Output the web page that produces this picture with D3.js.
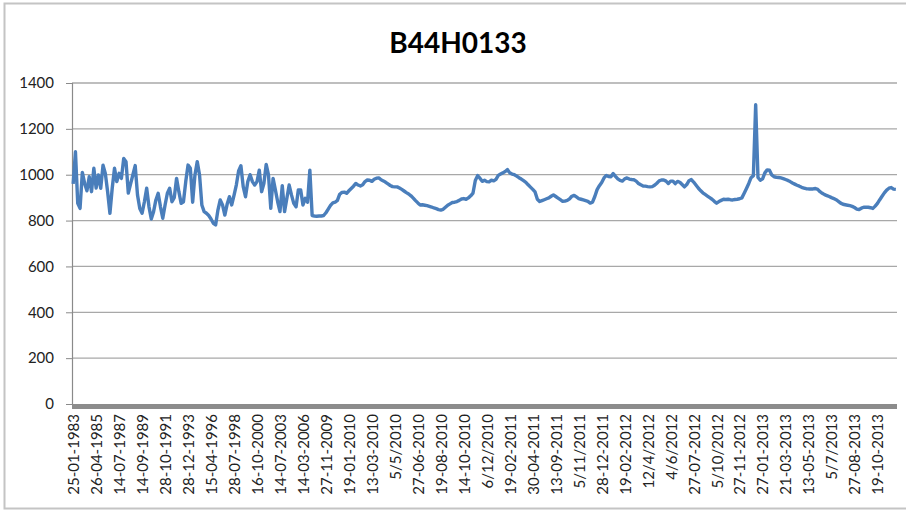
<!DOCTYPE html>
<html>
<head>
<meta charset="utf-8">
<script src="https://cdn.jsdelivr.net/npm/d3@7"></script>
<style>
  html, body { margin: 0; padding: 0; background: #fff; }
  svg { display: block; font-family: Lato, "Open Sans", sans-serif; }
</style>
</head>
<body>
<svg id="chart" width="906" height="512"></svg>
<script>
// Station title
const title = "B44H0133";

// Category labels shown on the axis (one every tenth reading)
const tickLabels = [
  "25-01-1983", "26-04-1985", "14-07-1987", "14-09-1989", "28-10-1991", "28-12-1993",
  "15-04-1996", "28-07-1998", "16-10-2000", "14-07-2003", "14-03-2006", "27-11-2009",
  "19-01-2010", "13-03-2010", "5/5/2010", "27-06-2010", "19-08-2010", "14-10-2010",
  "6/12/2010", "19-02-2011", "30-04-2011", "13-09-2011", "5/11/2011", "28-12-2011",
  "19-02-2012", "12/4/2012", "4/6/2012", "27-07-2012", "5/10/2012", "27-11-2012",
  "27-01-2013", "21-03-2013", "13-05-2013", "5/7/2013", "27-08-2013", "19-10-2013"
];
const labelEvery = 10;

// Readings, 1983-2006
const valuesEarly = [
  960, 1100, 875, 853, 1010, 962, 930, 991, 926, 1028,
  942, 999, 941, 1042, 1006, 926, 832, 941, 1028, 970,
  1006, 984, 1071, 1057, 920, 960, 1000, 1040, 912, 853,
  832, 882, 941, 860, 807, 839, 890, 919, 860, 810,
  868, 919, 941, 882, 900, 984, 926, 875, 882, 970,
  1042, 1028, 880, 999, 1057, 999, 868, 839, 832, 822,
  807, 788, 781, 846, 890, 868, 824, 871, 904, 868,
  910, 955, 1016, 1039, 948, 904, 970, 1000, 970, 955,
  970, 1020, 926, 962, 1045, 999, 853, 984, 934, 882,
  839, 952, 839, 897, 955, 912, 875, 860, 934, 934,
  868, 897, 880, 1020
];

// Readings, 2009-2011
const valuesMid = [
  822, 820, 819, 820, 820, 822, 834, 850, 866, 877,
  880, 888, 915, 923, 924, 919, 930, 940, 950, 962,
  955, 951, 956, 970, 977, 976, 971, 980, 985, 986,
  978, 973, 967, 960, 953, 948, 947, 947, 942, 936,
  929, 922, 916, 908, 898, 887, 877, 868, 869, 867,
  865, 862, 859, 855, 852, 848, 846, 849, 858, 867,
  873, 879, 880, 883, 888, 894, 896, 893, 899, 908,
  920, 975, 996, 985, 971, 976, 970, 969, 976, 973,
  980, 997, 1003, 1008, 1014, 1022, 1008, 1003, 1000, 994,
  987, 981, 974, 967, 956, 946, 936, 925, 893, 883,
  887, 891, 895, 899, 906, 912, 905, 898, 891, 884,
  885, 888, 895, 906, 910, 903, 896, 893, 890, 887,
  884
];

// Readings, 2011-2013
const valuesLate = [
  876, 880, 905, 935, 952, 966, 986, 997, 992, 991,
  1005, 993, 982, 975, 972, 982, 986, 981, 979, 978,
  972, 962, 956, 951, 950, 948, 947, 948, 954, 963,
  973, 977, 977, 972, 962, 972, 972, 961, 971, 967,
  957, 947, 957, 974, 979, 968, 955, 942, 931, 921,
  914, 907, 900, 893, 884, 876, 883, 888, 893, 892,
  893, 891, 890, 892, 893, 895, 899, 919, 940, 962,
  987, 996, 1305, 988, 976, 982, 1008, 1021, 1020, 999,
  991, 989, 988, 986, 983, 979, 975, 970, 964, 959,
  954, 950, 945, 942, 939, 938, 938, 938, 940, 936,
  926, 919, 913, 909, 905, 900, 896, 891, 884, 876,
  871, 869, 867, 865, 862, 857, 850, 848, 854, 858,
  858, 858, 856, 853, 863, 875, 891, 906, 921, 933,
  941, 944, 937, 936
];

const yTicks = [0, 200, 400, 600, 800, 1000, 1200, 1400];

const values = valuesEarly.concat(valuesMid, valuesLate);
const n = values.length;

const svg = d3.select("#chart");
const plot = { left: 72, right: 897, top: 83, bottom: 404 };

// Outer chart frame
svg.append("rect")
  .attr("x", 4.5).attr("y", 3.5)
  .attr("width", 920).attr("height", 505)
  .attr("fill", "#fff")
  .attr("stroke", "#c4c4c4")
  .attr("stroke-width", 2);

const x = d3.scaleLinear().domain([-0.5, n - 0.5]).range([plot.left, plot.right]);
const y = d3.scaleLinear().domain([0, 1400]).range([plot.bottom, plot.top]);

// Horizontal gridlines
svg.append("g")
  .selectAll("line")
  .data(yTicks.filter(d => d > 0))
  .join("line")
  .attr("x1", plot.left).attr("x2", plot.right)
  .attr("y1", d => y(d)).attr("y2", d => y(d))
  .attr("stroke", "#a8a8a8")
  .attr("stroke-width", 1.3);

// Value axis
const yAxis = svg.append("g")
  .attr("transform", `translate(${plot.left},0)`)
  .call(d3.axisLeft(y).tickValues(yTicks).tickSize(6).tickPadding(12).tickFormat(d3.format("d")));
yAxis.select(".domain").attr("stroke", "#8a8a8a").attr("stroke-width", 1.2);
yAxis.selectAll(".tick line").attr("stroke", "#8a8a8a");
yAxis.selectAll("text")
  .attr("fill", "#222")
  .style("font-size", "15px")
  .style("font-family", "Lato, sans-serif");

// Category axis with rotated date labels
const tickIdx = tickLabels.map((_, i) => i * labelEvery);
const xAxis = svg.append("g")
  .attr("transform", `translate(0,${plot.bottom})`)
  .call(d3.axisBottom(x).tickValues(tickIdx).tickSize(0)
    .tickFormat(d => tickLabels[d / labelEvery]));
xAxis.select(".domain").remove();
xAxis.selectAll("text")
  .attr("transform", "rotate(-90)")
  .attr("x", -10)
  .attr("y", 0)
  .attr("dy", "0.36em")
  .attr("text-anchor", "end")
  .attr("fill", "#222")
  .style("font-size", "15px")
  .style("font-family", "Lato, sans-serif");

// Thick baseline along the category axis
svg.append("line")
  .attr("x1", plot.left).attr("x2", plot.right)
  .attr("y1", plot.bottom + 2.5).attr("y2", plot.bottom + 2.5)
  .attr("stroke", "#8c8c8c")
  .attr("stroke-width", 5);

// Series line
const line = d3.line()
  .x((d, i) => x(i))
  .y(d => y(d));
svg.append("path")
  .datum(values)
  .attr("d", line)
  .attr("fill", "none")
  .attr("stroke", "#4a7ebb")
  .attr("stroke-width", 3.4)
  .attr("stroke-linejoin", "round");

// Title
svg.append("text")
  .attr("x", 458)
  .attr("y", 53)
  .attr("text-anchor", "middle")
  .style("font-family", "Lato, sans-serif")
  .style("font-weight", "bold")
  .style("font-size", "28px")
  .attr("fill", "#000")
  .text(title);
</script>
</body>
</html>
